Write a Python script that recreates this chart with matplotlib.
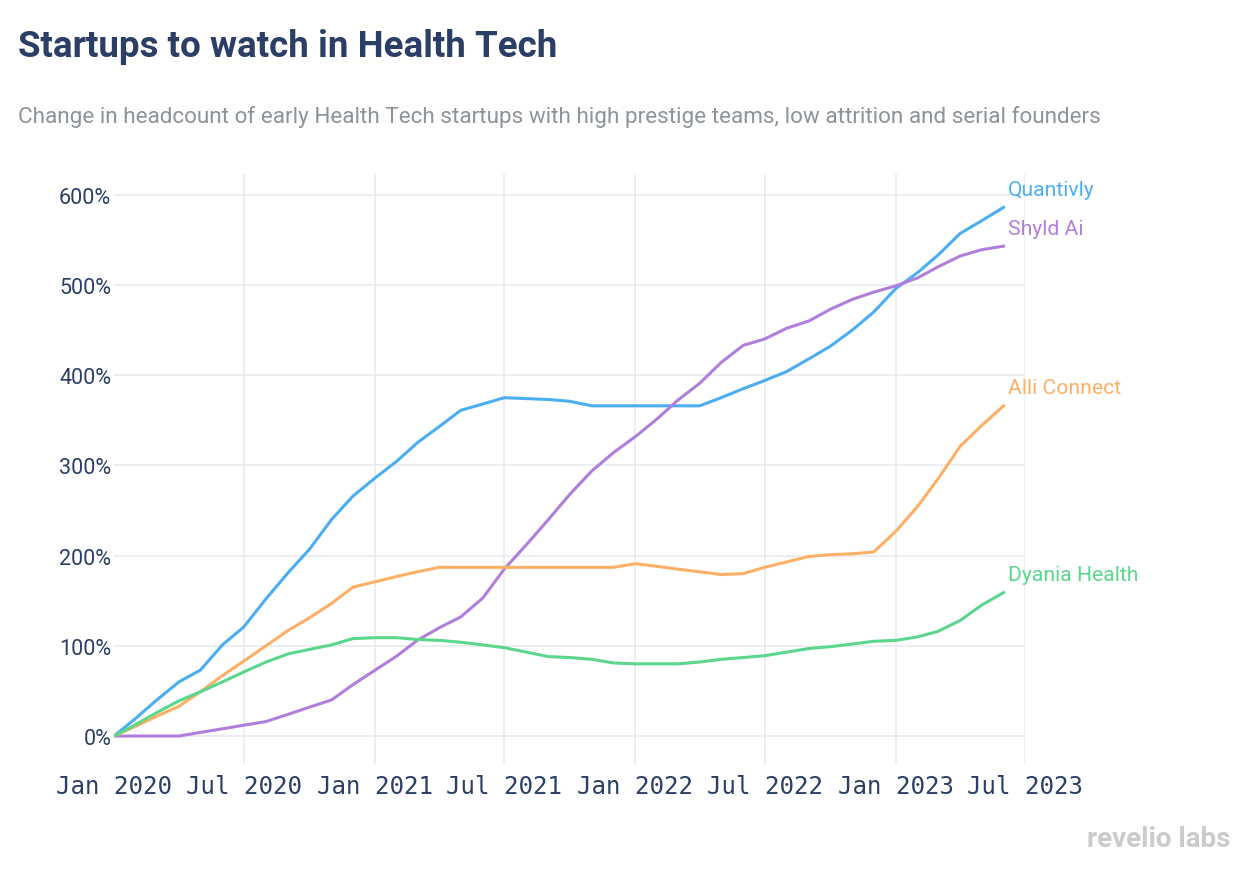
import pandas as pd
import matplotlib.pyplot as plt
import matplotlib.dates as mdates

# monthly headcount change (%) since Jan 2020
months = pd.date_range('2020-01-01', '2023-06-01', freq='MS')

quantivly = [0, 20, 40, 60, 73, 101, 121, 152, 181, 207, 240, 266, 286, 305,
             325, 343, 361, 368, 375, 374, 373, 371, 366, 366, 366, 366, 366,
             366, 375, 385, 394, 404, 418, 432, 450, 470, 496, 514, 533, 557,
             571, 586]
shyld_ai = [0, 0, 0, 0, 4, 8, 12, 16, 24, 32, 40, 57, 73, 89, 106, 120, 132,
            153, 185, 212, 240, 268, 294, 314, 332, 352, 372, 391, 414, 433,
            440, 452, 460, 473, 484, 492, 499, 508, 520, 532, 539, 543]
alli_connect = [0, 11, 22, 33, 49, 67, 83, 100, 117, 131, 147, 165, 171, 177,
                182, 187, 187, 187, 187, 187, 187, 187, 187, 187, 191, 188,
                185, 182, 179, 180, 187, 193, 199, 201, 202, 204, 227, 255,
                285, 321, 344, 366]
dyania_health = [0, 13, 26, 39, 49, 60, 71, 82, 91, 96, 101, 108, 109, 109,
                 107, 106, 104, 101, 98, 93, 88, 87, 85, 81, 80, 80, 80, 82,
                 85, 87, 89, 93, 97, 99, 102, 105, 106, 110, 116, 128, 145, 159]

series = [
    ('Quantivly', quantivly, '#4BAEF2'),
    ('Shyld Ai', shyld_ai, '#B07EDB'),
    ('Alli Connect', alli_connect, '#FCB066'),
    ('Dyania Health', dyania_health, '#5AD68D'),
]

navy = '#2B3F66'
plt.rcParams['font.family'] = ['Roboto', 'DejaVu Sans']

fig = plt.figure(figsize=(12.5, 8.7), dpi=100)
ax = fig.add_axes([0.0912, 0.1207, 0.7288, 0.6782])

for name, vals, color in series:
    ax.plot(months, vals, color=color, lw=2.2, solid_joinstyle='round', zorder=3)
    ax.annotate(name, (months[-1], vals[-1]), xytext=(4, 18),
                textcoords='offset pixels', color=color, fontsize=15.2,
                va='center', ha='left', annotation_clip=False)

ax.set_xlim(pd.Timestamp('2020-01-01'), pd.Timestamp('2023-07-01'))
ax.set_ylim(-31, 623)
ax.set_yticks(range(0, 601, 100))
ax.set_yticklabels([f'{v}%' for v in range(0, 601, 100)])
ax.xaxis.set_major_locator(mdates.MonthLocator(bymonth=[1, 7]))
ax.xaxis.set_major_formatter(mdates.DateFormatter('%b %Y'))

ax.grid(True, color='#E9EBEF', lw=1.2, zorder=0)
ax.get_xgridlines()[0].set_visible(False)
for s in ax.spines.values():
    s.set_visible(False)
ax.tick_params(length=0)
ax.tick_params(axis='y', labelsize=15.5, labelcolor=navy, pad=2)
ax.tick_params(axis='x', labelsize=17.4, labelcolor=navy, pad=7)
for lab in ax.get_xticklabels():
    lab.set_family('DejaVu Sans Mono')

fig.text(0.0144, 0.946, 'Startups to watch in Health Tech', fontsize=26.5,
         fontweight='bold', color=navy, va='center', ha='left')
fig.text(0.0144, 0.865, 'Change in headcount of early Health Tech startups with '
         'high prestige teams, low attrition and serial founders',
         fontsize=16.2, color='#8C9399', va='center', ha='left')
fig.text(0.984, 0.035, 'revelio labs', fontsize=20, fontweight='bold',
         color='#CBCBCB', va='center', ha='right')

fig.savefig('out.png', dpi=100)
